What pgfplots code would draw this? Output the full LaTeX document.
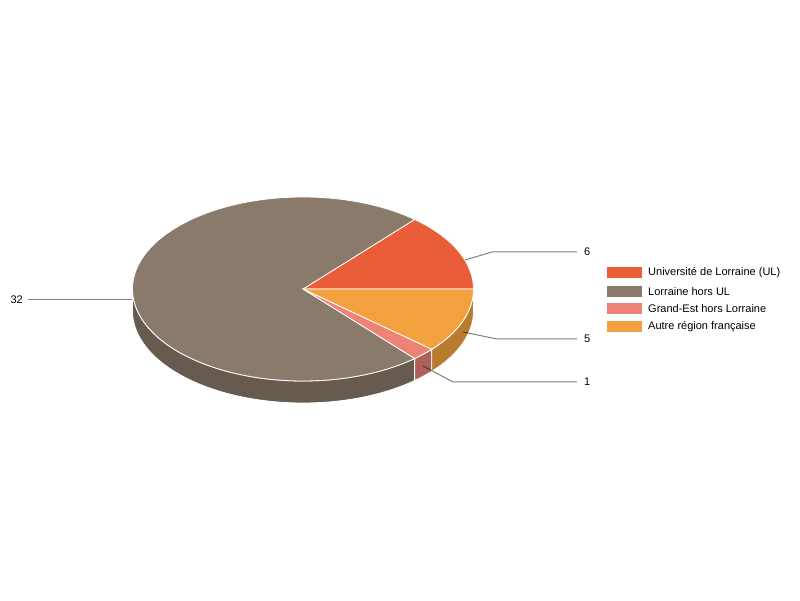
\documentclass[border=0pt]{standalone}
\usepackage{pgfplots}
\pgfplotsset{compat=1.18}
\usepackage{fontspec}
\setmainfont{Liberation Sans}
\definecolor{cUL}{HTML}{E95E39}
\definecolor{cLor}{HTML}{8A7A6B}
\definecolor{cGE}{HTML}{EE8275}
\definecolor{cAut}{HTML}{F3A13F}
\definecolor{sLor}{HTML}{675A4F}
\definecolor{sGE}{HTML}{B0605A}
\definecolor{sAut}{HTML}{B87B30}

% pie geometry (1 unit = 1pt = 1px)
\def\cx{303}\def\cy{311}\def\rx{170.5}\def\ry{92}\def\dep{22}

\newcommand\topslice[3]{%
  \fill[#1,draw=white,line width=0.8pt] (axis cs:\cx,\cy)
    -- (axis cs:{\cx+\rx*cos(#2)},{\cy+\ry*sin(#2)})
    arc[start angle=#2,end angle=#3,x radius=\rx,y radius=\ry] -- cycle;}
\newcommand\sideslice[3]{%
  \fill[#1,draw=white,line width=0.8pt]
    (axis cs:{\cx+\rx*cos(#2)},{\cy+\ry*sin(#2)})
    arc[start angle=#2,end angle=#3,x radius=\rx,y radius=\ry]
    -- (axis cs:{\cx+\rx*cos(#3)},{\cy-\dep+\ry*sin(#3)})
    arc[start angle=#3,end angle=#2,x radius=\rx,y radius=\ry] -- cycle;}

\begin{document}
\begin{tikzpicture}[font=\fontsize{11}{13}\selectfont]
% values: UL 6, Lorraine hors UL 32, Grand-Est hors Lorraine 1, Autre 5
\pgfmathsetmacro\tot{6+32+1+5}
\pgfmathsetmacro\aA{6/\tot*360}
\pgfmathsetmacro\aB{\aA+32/\tot*360}
\pgfmathsetmacro\aC{\aB+1/\tot*360}
\begin{axis}[x=1pt,y=1pt,xmin=0,xmax=800,ymin=0,ymax=600,
  hide axis,scale only axis,clip=false]
\path (axis cs:0,0) rectangle (axis cs:800,600);
% front walls
\sideslice{sLor}{180}{\aB}
\sideslice{sGE}{\aB}{\aC}
\sideslice{sAut}{\aC}{360}
% top faces
\topslice{cUL}{0}{\aA}
\topslice{cLor}{\aA}{\aB}
\topslice{cGE}{\aB}{\aC}
\topslice{cAut}{\aC}{360}
% leader lines and values
\draw[black,opacity=0.5,line width=1pt] (axis cs:465,340) -- (axis cs:492,348) -- (axis cs:577,348);
\draw[black,opacity=0.5,line width=1pt] (axis cs:463,268) -- (axis cs:497,261) -- (axis cs:577,261);
\draw[black,opacity=0.5,line width=1pt] (axis cs:423,234) -- (axis cs:453,218) -- (axis cs:577,218);
\draw[black,opacity=0.5,line width=1pt] (axis cs:132,300) -- (axis cs:28,300);
\node[anchor=west,inner sep=0pt] at (axis cs:584,348) {6};
\node[anchor=west,inner sep=0pt] at (axis cs:584,261) {5};
\node[anchor=west,inner sep=0pt] at (axis cs:584,218) {1};
\node[anchor=east,inner sep=0pt] at (axis cs:23,300) {32};
% legend
\fill[cUL] (axis cs:607,322) rectangle (axis cs:642,333);
\fill[cLor] (axis cs:607,303) rectangle (axis cs:642,314);
\fill[cGE] (axis cs:607,286) rectangle (axis cs:642,297);
\fill[cAut] (axis cs:607,268) rectangle (axis cs:642,279);
\node[anchor=west,inner sep=0pt] at (axis cs:648,327.5) {Université de Lorraine (UL)};
\node[anchor=west,inner sep=0pt] at (axis cs:648,308.5) {Lorraine hors UL};
\node[anchor=west,inner sep=0pt] at (axis cs:648,291.5) {Grand-Est hors Lorraine};
\node[anchor=west,inner sep=0pt] at (axis cs:648,273.5) {Autre région française};
\end{axis}
\end{tikzpicture}
\end{document}
